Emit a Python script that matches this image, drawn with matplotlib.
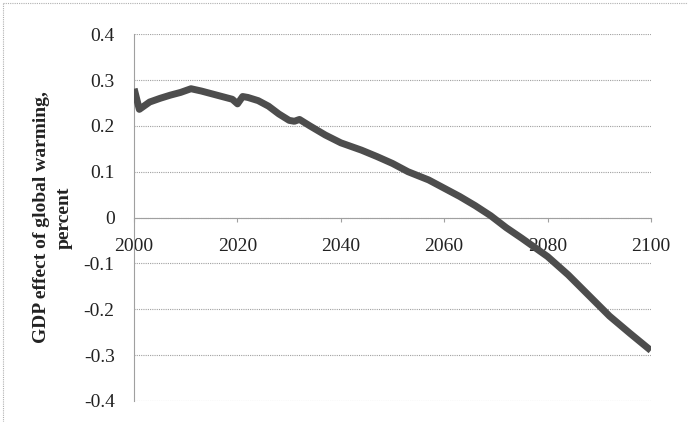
import matplotlib
matplotlib.use("Agg")
import matplotlib.pyplot as plt
from matplotlib.lines import Line2D

years = [2000, 2001, 2003, 2005, 2007, 2009, 2011, 2013, 2015, 2017, 2019,
         2020, 2021, 2022, 2024, 2026, 2028, 2030, 2031, 2032, 2034, 2037,
         2040, 2044, 2047, 2050, 2053, 2057, 2060, 2063, 2066, 2069, 2072,
         2075, 2080, 2084, 2088, 2092, 2096, 2100]
gdp_effect = [0.281, 0.236, 0.252, 0.260, 0.267, 0.273, 0.281, 0.276, 0.270,
              0.264, 0.258, 0.248, 0.264, 0.262, 0.255, 0.243, 0.226, 0.212,
              0.210, 0.214, 0.200, 0.180, 0.163, 0.147, 0.133, 0.118, 0.100,
              0.082, 0.064, 0.046, 0.026, 0.004, -0.022, -0.045, -0.085,
              -0.125, -0.170, -0.215, -0.253, -0.290]

x_ticks = [2000, 2020, 2040, 2060, 2080, 2100]
y_ticks = [-0.4, -0.3, -0.2, -0.1, 0, 0.1, 0.2, 0.3, 0.4]
y_tick_labels = ["-0.4", "-0.3", "-0.2", "-0.1", "0", "0.1", "0.2", "0.3", "0.4"]
y_label = "GDP effect of global warming,\npercent"

plt.rcParams["font.family"] = ["Liberation Serif", "DejaVu Serif"]

fig = plt.figure(figsize=(6.88, 4.22), dpi=100)
ax = fig.add_axes([0.195, 0.050, 0.751, 0.869])

grid_color = "#a0a0a0"
for y in y_ticks:
    ax.axhline(y, color=grid_color, lw=0.8, ls=(0, (1, 1)), zorder=1)

ax.plot(years, gdp_effect, color="#4d4d4d", lw=5, solid_capstyle="butt",
        solid_joinstyle="round", zorder=3)

ax.set_xlim(2000, 2100)
ax.set_ylim(-0.4, 0.4)

ax.spines["top"].set_visible(False)
ax.spines["right"].set_visible(False)
ax.spines["left"].set_color(grid_color)
ax.spines["left"].set_linestyle((0, (1, 1)))
ax.spines["left"].set_linewidth(0.8)
ax.spines["bottom"].set_position(("data", 0))
ax.spines["bottom"].set_color(grid_color)
ax.spines["bottom"].set_linewidth(0.8)

ax.set_xticks(x_ticks)
ax.set_xticklabels([str(x) for x in x_ticks])
ax.set_yticks(y_ticks)
ax.set_yticklabels(y_tick_labels)
ax.tick_params(axis="x", length=3, color=grid_color, pad=12, labelsize=14,
               labelcolor="#222222")
ax.tick_params(axis="y", length=0, pad=14, labelsize=14, labelcolor="#222222")

ax.set_ylabel(y_label, fontsize=14, fontweight="bold", color="#222222",
              linespacing=1.45, labelpad=8)

# outer chart-area border
border = "#b0b0b0"
fig.add_artist(Line2D([0.005, 0.005], [0.0, 0.993], color=border, lw=0.8,
                      ls=(0, (1, 1)), transform=fig.transFigure))
fig.add_artist(Line2D([0.005, 1.0], [0.993, 0.993], color=border, lw=0.8,
                      ls=(0, (1, 1)), transform=fig.transFigure))

fig.savefig("out.png", dpi=100)
